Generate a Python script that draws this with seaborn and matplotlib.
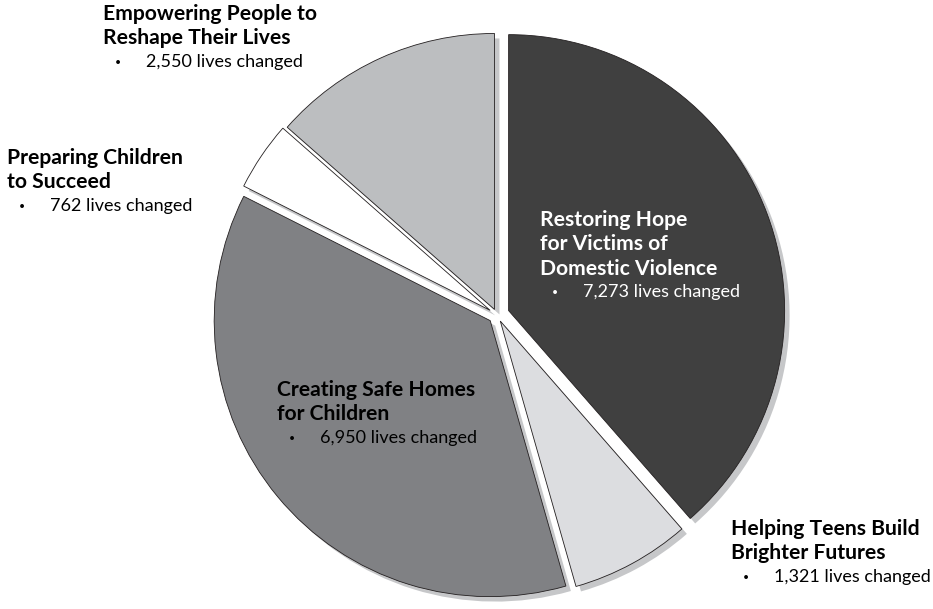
import matplotlib
matplotlib.use("Agg")
import matplotlib.pyplot as plt
import seaborn as sns

# --- data ---
programs = [
    "Restoring Hope\nfor Victims of\nDomestic Violence",
    "Helping Teens Build\nBrighter Futures",
    "Creating Safe Homes\nfor Children",
    "Preparing Children\nto Succeed",
    "Empowering People to\nReshape Their Lives",
]
lives_changed = [7273, 1321, 6950, 762, 2550]

# --- style ---
sns.set_theme(style="white")
plt.rcParams["font.family"] = ["Lato", "DejaVu Sans"]

slice_colors = ["#404040", "#dcdde0", "#808184", "#ffffff", "#bcbec0"]
explode = [0.045, 0.025, 0.032, 0.03, 0.022]
shadow_color = "#c6c7c9"

W, H = 933, 609
fig = plt.figure(figsize=(W / 100, H / 100), dpi=100)
ax = fig.add_axes([0, 0, 1, 1])

# pie geometry in pixels
cx, cy, rad = 497, 315, 276

# shadow pie (offset right / down)
off = 0.018
ax.pie(lives_changed, explode=explode, colors=[shadow_color] * len(lives_changed),
       startangle=90, counterclock=False, center=(off, -off),
       wedgeprops=dict(linewidth=0, zorder=1))
# main pie
wedges, _ = ax.pie(lives_changed, explode=explode, colors=slice_colors,
                   startangle=90, counterclock=False,
                   wedgeprops=dict(edgecolor="#231f20", linewidth=0.6, zorder=2))

ax.set_xlim(-cx / rad, (W - cx) / rad)
ax.set_ylim(-(H - cy) / rad, cy / rad)
ax.set_aspect("auto")
ax.axis("off")

# label placement (pixel coords: left x, first-line centre y, text colour)
label_pos = [(540, 220, "white"), (731, 529, "black"), (277, 390, "black"),
             (7, 158, "black"), (103, 14, "black")]
line_step = 24.3


def fx(x):
    return x / W


def fy(y):
    return 1 - y / H


for name, val, (lx, ly, c) in zip(programs, lives_changed, label_pos):
    lines = name.split("\n")
    for i, line in enumerate(lines):
        fig.text(fx(lx), fy(ly + i * line_step), line, ha="left", va="center",
                 fontsize=15.2, fontweight="bold", color=c)
    sub_y = ly + len(lines) * line_step - 0.5
    fig.text(fx(lx + 15), fy(sub_y), "•", ha="center", va="center",
             fontsize=7.5, color=c)
    fig.text(fx(lx + 43), fy(sub_y), f"{val:,} lives changed", ha="left",
             va="center", fontsize=13, color=c)

fig.savefig("out.png", dpi=100, facecolor="white")
